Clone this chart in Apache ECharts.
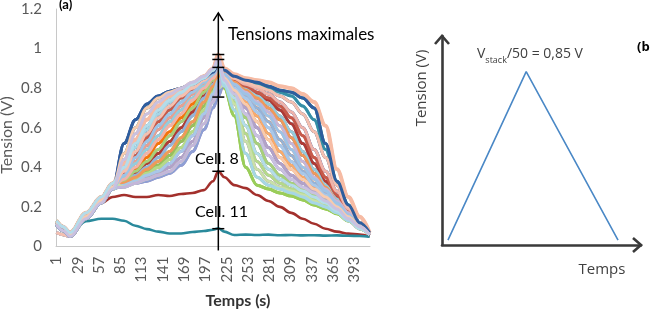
<!DOCTYPE html>
<html><head><meta charset="utf-8">
<script src="https://cdn.jsdelivr.net/npm/echarts@6/dist/echarts.min.js"></script>
<style>html,body{margin:0;padding:0;background:#fff}#c{width:650px;height:312px}</style>
</head><body><div id="c"></div>
<script>
// ---- data ----
const sampleCount = 413;
const timePoints = [1,10,19,40,60,75,90,105,120,135,150,165,180,195,207,214,222,235,250,265,280,295,310,325,340,355,370,385,400,413];
// t = 1 .. 75
const startProfiles = [
  [0.12,0.10,0.06,0.15,0.23,0.30],
  [0.11,0.08,0.05,0.14,0.22,0.29],
  [0.13,0.10,0.07,0.17,0.25,0.32],
  [0.07,0.06,0.05,0.15,0.24,0.30]
];
// t = 90 .. 207
const riseProfiles = [
  [0.52,0.64,0.72,0.76,0.785,0.80,0.82,0.85,0.88],
  [0.47,0.60,0.70,0.75,0.78,0.80,0.82,0.86,0.89],
  [0.44,0.57,0.67,0.73,0.77,0.80,0.83,0.86,0.90],
  [0.42,0.54,0.64,0.71,0.76,0.79,0.82,0.86,0.90],
  [0.40,0.52,0.61,0.69,0.74,0.78,0.82,0.85,0.89],
  [0.39,0.50,0.59,0.67,0.73,0.77,0.81,0.85,0.89],
  [0.38,0.48,0.57,0.65,0.71,0.76,0.80,0.84,0.88],
  [0.37,0.46,0.55,0.63,0.69,0.75,0.79,0.84,0.88],
  [0.36,0.45,0.53,0.61,0.67,0.73,0.78,0.83,0.87],
  [0.35,0.43,0.51,0.59,0.65,0.71,0.77,0.82,0.87],
  [0.35,0.42,0.49,0.56,0.63,0.69,0.75,0.81,0.86],
  [0.34,0.40,0.47,0.54,0.61,0.67,0.74,0.80,0.85],
  [0.34,0.39,0.45,0.52,0.58,0.65,0.72,0.79,0.85],
  [0.33,0.38,0.43,0.49,0.56,0.63,0.70,0.78,0.84],
  [0.33,0.37,0.42,0.47,0.53,0.60,0.68,0.76,0.83],
  [0.32,0.36,0.40,0.45,0.51,0.58,0.66,0.75,0.82],
  [0.32,0.35,0.39,0.43,0.48,0.55,0.63,0.73,0.81],
  [0.32,0.35,0.38,0.41,0.46,0.53,0.61,0.71,0.80],
  [0.31,0.34,0.37,0.40,0.44,0.50,0.58,0.69,0.78],
  [0.31,0.33,0.36,0.38,0.42,0.48,0.56,0.67,0.77],
  [0.31,0.33,0.35,0.37,0.40,0.45,0.53,0.65,0.75],
  [0.30,0.32,0.34,0.36,0.38,0.43,0.51,0.62,0.73],
  [0.30,0.32,0.33,0.35,0.37,0.41,0.48,0.59,0.70]
];
// t = 214, same order as riseProfiles
const peakValues = [0.92,0.94,0.95,0.97,0.93,0.92,0.91,0.92,0.90,0.91,0.90,0.89,0.89,0.88,0.88,0.87,0.86,0.86,0.85,0.84,0.82,0.80,0.76];
// t = 222 .. 413
const fallProfiles = [
  [0.80,0.66,0.40,0.31,0.29,0.27,0.255,0.235,0.21,0.19,0.165,0.13,0.10,0.06],
  [0.81,0.69,0.47,0.35,0.31,0.29,0.27,0.25,0.22,0.20,0.17,0.13,0.10,0.06],
  [0.82,0.72,0.53,0.39,0.33,0.30,0.28,0.26,0.23,0.20,0.17,0.13,0.09,0.06],
  [0.83,0.73,0.57,0.43,0.36,0.32,0.29,0.27,0.24,0.21,0.18,0.14,0.09,0.06],
  [0.83,0.75,0.61,0.47,0.39,0.34,0.31,0.28,0.25,0.22,0.18,0.14,0.09,0.06],
  [0.84,0.76,0.65,0.52,0.42,0.36,0.32,0.29,0.26,0.23,0.19,0.14,0.09,0.06],
  [0.84,0.77,0.67,0.56,0.46,0.39,0.34,0.30,0.27,0.23,0.19,0.14,0.10,0.06],
  [0.85,0.78,0.70,0.60,0.50,0.42,0.36,0.32,0.28,0.24,0.20,0.15,0.10,0.06],
  [0.85,0.79,0.72,0.63,0.54,0.45,0.39,0.34,0.29,0.25,0.20,0.15,0.10,0.06],
  [0.86,0.80,0.73,0.66,0.57,0.48,0.41,0.35,0.30,0.26,0.21,0.15,0.10,0.06],
  [0.86,0.80,0.75,0.68,0.60,0.51,0.43,0.37,0.31,0.26,0.21,0.16,0.10,0.06],
  [0.87,0.81,0.76,0.70,0.63,0.54,0.46,0.38,0.32,0.27,0.22,0.16,0.10,0.06],
  [0.87,0.82,0.77,0.72,0.66,0.58,0.49,0.40,0.34,0.28,0.22,0.16,0.11,0.06],
  [0.87,0.82,0.78,0.73,0.68,0.61,0.52,0.43,0.35,0.29,0.23,0.17,0.11,0.06],
  [0.88,0.83,0.79,0.75,0.70,0.64,0.55,0.46,0.37,0.30,0.23,0.17,0.11,0.06],
  [0.88,0.83,0.80,0.76,0.72,0.66,0.58,0.48,0.39,0.31,0.24,0.17,0.11,0.06],
  [0.88,0.84,0.81,0.77,0.74,0.69,0.62,0.52,0.42,0.33,0.25,0.18,0.11,0.06],
  [0.88,0.84,0.81,0.78,0.75,0.71,0.65,0.56,0.45,0.35,0.26,0.18,0.11,0.06],
  [0.89,0.85,0.82,0.80,0.77,0.73,0.68,0.60,0.49,0.38,0.28,0.19,0.12,0.06],
  [0.89,0.85,0.83,0.81,0.79,0.76,0.73,0.67,0.58,0.45,0.31,0.20,0.12,0.06],
  [0.89,0.86,0.84,0.82,0.80,0.78,0.76,0.71,0.64,0.49,0.32,0.21,0.12,0.06],
  [0.89,0.86,0.84,0.83,0.81,0.79,0.78,0.75,0.70,0.52,0.33,0.21,0.12,0.07],
  [0.90,0.87,0.85,0.84,0.83,0.81,0.80,0.77,0.73,0.61,0.39,0.25,0.15,0.07]
];
// [start, rise, fall] for each ordinary cell, in cell order (cells 8 and 11 apart)
const cellCombos = [
  [0,9,9],[1,13,15],[2,16,0],[0,17,2],[3,7,16],[1,11,13],[0,5,19],
  [2,14,4],[1,19,7],
  [0,3,11],[3,15,5],[1,10,17],[2,18,0],[0,22,3],[1,8,20],[3,12,9],[0,6,14],[2,14,16],
  [1,17,1],[0,20,6],[2,4,20],[3,12,8],[0,15,11],[1,9,12],[2,18,3],[0,20,7],[3,10,15],
  [1,2,22],[0,0,18],[2,7,17],[1,13,5],[3,22,10],[0,1,21],[2,16,14],[1,19,10],[0,11,18],
  [2,21,2],[3,21,13],[1,5,1],[2,3,22],[0,8,12],[3,6,19],[1,0,21],[0,1,8],[2,4,4],[1,2,6]
];
const cell8 = [0.12,0.09,0.06,0.15,0.22,0.25,0.26,0.25,0.25,0.26,0.255,0.265,0.27,0.285,0.33,0.38,
  0.35,0.31,0.295,0.26,0.23,0.20,0.17,0.14,0.115,0.09,0.075,0.065,0.06,0.05];
const cell11 = [0.12,0.09,0.06,0.128,0.14,0.14,0.13,0.105,0.088,0.075,0.066,0.066,0.073,0.078,0.085,0.092,
  0.075,0.058,0.06,0.058,0.06,0.057,0.058,0.056,0.057,0.055,0.056,0.054,0.053,0.05];
const markerValues = [0.97,0.945,0.905,0.755,0.38,0.09];
const arrowTime = 214;
const yTickStep = 0.2;
const xLabelStep = 28;
const triangleTime = [0, 0.46, 1];
const triangleVolt = [0, 0.85, 0];

// ---- styles ----
const cellColors = ['#4F81BD','#C0504D','#8DC63F','#8064A2','#4BACC6','#F79646','#2C4D75',
  '#6E9A3A','#7A62A8',
  '#E46C0A','#729ACA','#CD7371','#9ACD5A','#9983B5','#6FBDD1','#F9AB6B','#3A679C','#B03A35',
  '#98C05A','#8C7AB8','#358EA6','#F3740B','#95B3D7','#E8A090','#B5D98A','#B2A2C7','#93CDDD',
  '#F9B894','#243F8F','#C65A4A','#A8CF7A','#8E9FD5','#1D6F7E','#F0995A','#A9C8E8','#EFB3AA',
  '#C9E0A8','#C3B6DA','#A6D6E6','#F6BBA4','#9DC3E6','#F4C0B0','#2E5E9E','#F8CBAD','#B4DCEA','#C9C1E0'];
const cell8Color = '#a3302c';
const cell11Color = '#2a8a9c';
const lineWidth = 3;

const categories = [];
for (let i = 1; i <= sampleCount; i++) categories.push(String(i));

function toPairs(vals) { return timePoints.map((t, i) => [t - 1, vals[i]]); }
function lineSeries(vals, color, width) {
  return { type: 'line', xAxisIndex: 0, yAxisIndex: 0, data: toPairs(vals), showSymbol: false,
    smooth: 0.35, smoothMonotone: 'x', lineStyle: { color: color, width: width }, itemStyle: { color: color },
    silent: true, animation: false };
}
const series = [];
cellCombos.forEach((c, i) => {
  const vals = startProfiles[c[0]].concat(riseProfiles[c[1]], [peakValues[c[1]]], fallProfiles[c[2]]);
  series.push(lineSeries(vals, cellColors[i], cellColors[i] === '#F6BBA4' ? 4 : lineWidth));
  if (i === 6) series.push(lineSeries(cell8, cell8Color, 2.6));
  if (i === 8) series.push(lineSeries(cell11, cell11Color, 2.6));
});
series.push({ type: 'line', xAxisIndex: 1, yAxisIndex: 1, data: triangleTime.map((x, i) => [x, triangleVolt[i]]),
  showSymbol: false, lineStyle: { color: '#4a88c6', width: 1.6 }, animation: false });

const chart = echarts.init(document.getElementById('c'));
const lab = { fontFamily: 'Lato', color: '#595959', fontSize: 15 };
chart.setOption({
  animation: false,
  grid: [
    { left: 56, right: 280, top: 9, bottom: 65.5 },
    { left: 442, right: 9, top: 36, bottom: 67 }
  ],
  xAxis: [
    { type: 'category', gridIndex: 0, data: categories, boundaryGap: true,
      axisLine: { lineStyle: { color: '#c8c8c8', width: 1 } }, axisTick: { show: false },
      axisLabel: Object.assign({ interval: xLabelStep - 1, rotate: 90, margin: 10 }, lab), splitLine: { show: false } },
    { type: 'value', gridIndex: 1, min: -0.035, max: 1.135,
      axisLine: { onZero: false, lineStyle: { color: '#3a3a3a', width: 2.6 } }, axisTick: { show: false },
      axisLabel: { show: false }, splitLine: { show: false } }
  ],
  yAxis: [
    { type: 'value', gridIndex: 0, min: 0, max: 1.2, interval: yTickStep,
      axisLine: { show: true, lineStyle: { color: '#c8c8c8', width: 1 } }, axisTick: { show: false },
      axisLabel: Object.assign({ margin: 14, formatter: v => String(Math.round(v * 10) / 10) }, lab),
      splitLine: { show: false } },
    { type: 'value', gridIndex: 1, min: -0.025, max: 1.03,
      axisLine: { show: true, onZero: false, lineStyle: { color: '#3a3a3a', width: 2.6 } }, axisTick: { show: false },
      axisLabel: { show: false }, splitLine: { show: false } }
  ],
  series: series
});

// ---- annotations ----
const g = [];
const ax = chart.convertToPixel({ gridIndex: 0 }, [arrowTime - 1, 1.18]);
const ab = chart.convertToPixel({ gridIndex: 0 }, [arrowTime - 1, -0.02]);
const ink = { stroke: '#000', lineWidth: 1.5 };
g.push({ type: 'line', z: 100, shape: { x1: ax[0], y1: ax[1], x2: ab[0], y2: ab[1] }, style: ink });
g.push({ type: 'polyline', z: 100, shape: { points: [[ax[0] - 5, ax[1] + 8], [ax[0], ax[1]], [ax[0] + 5, ax[1] + 8]] }, style: Object.assign({ fill: null }, ink) });
markerValues.forEach(v => {
  const p = chart.convertToPixel({ gridIndex: 0 }, [arrowTime - 1, v]);
  g.push({ type: 'line', z: 100, shape: { x1: p[0] - 6, y1: p[1], x2: p[0] + 6, y2: p[1] }, style: ink });
});
function txt(text, x, y, opt) {
  return Object.assign({ type: 'text', z: 110, x: x, y: y,
    style: Object.assign({ text: text, fill: '#000', font: '16px Lato', textVerticalAlign: 'middle' }, opt || {}) });
}
g.push(txt('(a)', 59, 5, { font: 'bold 13px Lato' }));
g.push(txt('Tensions maximales', 228, 35, { font: '17px Lato' }));
g.push(txt('Cell. 8', 195, 159));
g.push(txt('Cell. 11', 195, 212));
g.push(Object.assign(txt('Tension (V)', 7, 135, { font: '16px Lato', fill: '#595959', textAlign: 'center' }), { rotation: Math.PI / 2 }));
g.push(txt('Temps (s)', 238, 301, { font: 'bold 16px Lato', fill: '#333', textAlign: 'center' }));

// panel b arrows
const yTip = chart.convertToPixel({ gridIndex: 1 }, [-0.035, 1.03]);
const xTip = chart.convertToPixel({ gridIndex: 1 }, [1.135, -0.025]);
const dark = { stroke: '#3a3a3a', lineWidth: 2.6, fill: null, lineJoin: 'miter' };
g.push({ type: 'polyline', z: 100, shape: { points: [[yTip[0] - 7, yTip[1] + 8], [yTip[0], yTip[1]], [yTip[0] + 7, yTip[1] + 8]] }, style: dark });
g.push({ type: 'polyline', z: 100, shape: { points: [[xTip[0] - 8, xTip[1] - 7], [xTip[0], xTip[1]], [xTip[0] - 8, xTip[1] + 7]] }, style: dark });
g.push({ type: 'text', z: 110, x: 477, y: 47, style: {
  text: '{v|V}{s|stack}{v|/50 = 0,85 V}',
  rich: { v: { fontFamily: 'Open Sans', fontSize: 14, fill: '#404040', lineHeight: 18, verticalAlign: 'top' },
          s: { fontFamily: 'Open Sans', fontSize: 9, fill: '#404040', lineHeight: 18, verticalAlign: 'bottom' } } } });
g.push(Object.assign(txt('Tension (V)', 422, 88, { font: '15px "Open Sans"', fill: '#404040', textAlign: 'center' }), { rotation: Math.PI / 2 }));
g.push(txt('Temps', 602, 270, { font: '15px "Open Sans"', fill: '#404040', textAlign: 'center' }));
g.push(txt('(b)', 637, 47, { font: 'bold 13px "Open Sans"' }));
chart.setOption({ graphic: g });
</script>
</body></html>
